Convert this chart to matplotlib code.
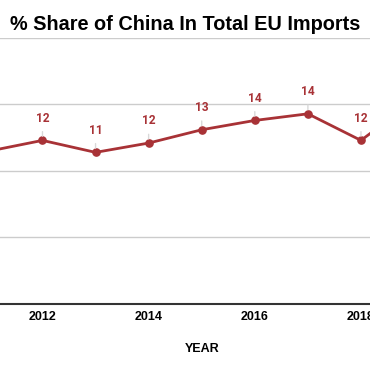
import matplotlib
matplotlib.use("Agg")
import matplotlib.pyplot as plt

# data
years = [2011, 2012, 2013, 2014, 2015, 2016, 2017, 2018, 2019]
share = [11.5, 12.3, 11.4, 12.1, 13.1, 13.8, 14.3, 12.3, 15.3]
labels = [12, 12, 11, 12, 13, 14, 14, 12, 15]
y_ticks = [0, 5, 10, 15, 20]
x_ticks = [2012, 2014, 2016, 2018]

red = '#a83236'

fig = plt.figure(figsize=(3.7, 3.71), dpi=100)
ax = fig.add_axes([0, 0.1806, 1, 0.717])

ax.plot(years, share, color=red, lw=2, marker='o', ms=5.2, zorder=3)

for x, y, lab in zip(years, share, labels):
    ax.annotate(str(lab), xy=(x, y), xytext=(0, 16), textcoords='offset points',
                ha='center', va='center', color=red, fontsize=8.6,
                fontweight='bold', family='Roboto',
                arrowprops=dict(arrowstyle='-', color='#d9d9d9', lw=1,
                                shrinkA=3, shrinkB=3))

# the chart is cropped, so the visible window starts/ends between years
ax.set_xlim(2011.2, 2018.17)
ax.set_ylim(0, 20)
ax.set_yticks(y_ticks)
ax.set_xticks(x_ticks)
ax.set_xticklabels([str(t) for t in x_ticks], fontsize=9, fontweight='bold',
                   family='Liberation Sans')
ax.tick_params(axis='x', length=0, pad=5)
ax.tick_params(axis='y', length=0, labelleft=False)
ax.grid(axis='y', color='#cccccc', lw=1)
ax.set_axisbelow(True)
for s in ['top', 'right', 'left']:
    ax.spines[s].set_visible(False)
ax.spines['bottom'].set_color('#333333')
ax.spines['bottom'].set_linewidth(1.5)

ax.set_xlabel('YEAR', fontsize=9, fontweight='bold', family='Liberation Sans')
ax.xaxis.set_label_coords(0.545, -0.145)

fig.text(0.5, 0.935, '% Share of China In Total EU Imports', ha='center', va='center',
         fontsize=14.3, fontweight='bold', family='Liberation Sans')

plt.savefig('out.png', dpi=100)
